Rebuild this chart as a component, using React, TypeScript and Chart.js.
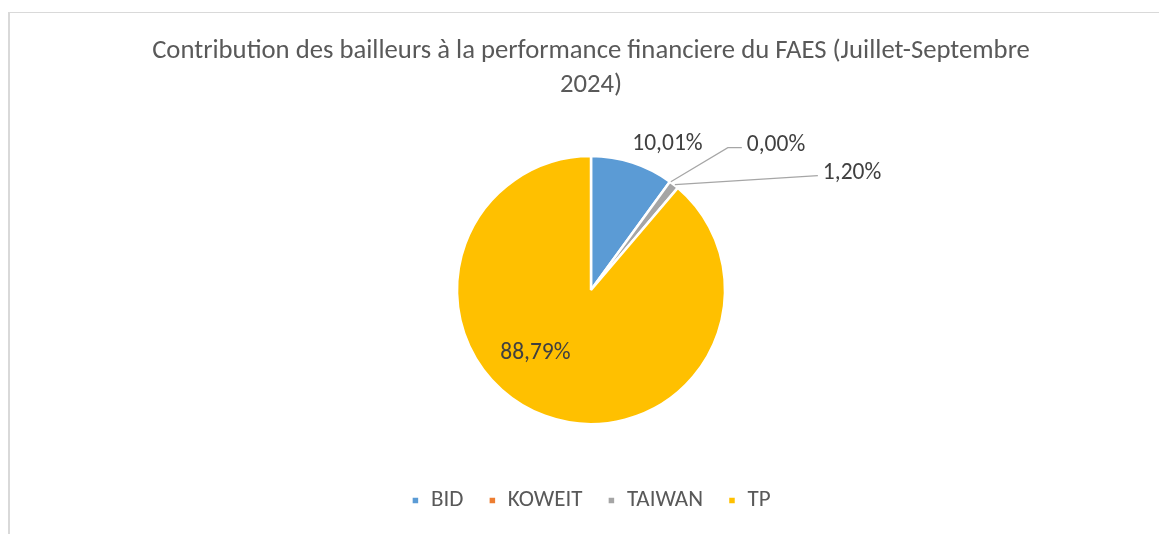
import React, { useEffect, useRef } from "react";
import { Chart, registerables } from "chart.js";

Chart.register(...registerables);

const categories = ["BID", "KOWEIT", "TAIWAN", "TP"];
const values = [10.01, 0.0, 1.2, 88.79];
const valueLabels = ["10,01%", "0,00%", "1,20%", "88,79%"];
const sliceColors = ["#5B9BD5", "#ED7D31", "#A5A5A5", "#FFC000"];
const titleLines = [
  "Contribution des bailleurs à la performance financiere du FAES (Juillet-Septembre",
  "2024)",
];

const FONT = "Calibri, Carlito, Lato, sans-serif";

// label placement styles (relative to each arc)
const labelPlacements: any[] = [
  { mode: "outside", dx: 35, dy: -18 },
  { mode: "leader", elbowDx: 58, elbowDy: -34, tail: 14 },
  { mode: "leader", elbowDx: 144, elbowDy: -9, tail: 0 },
  { mode: "inside", radial: 0.63, angleShift: (21 * Math.PI) / 180 },
];

const labelPlugin = {
  id: "sliceLabels",
  afterDatasetsDraw(chart: any) {
    const ctx = chart.ctx;
    const meta = chart.getDatasetMeta(0);
    ctx.save();
    ctx.font = `23.5px ${FONT}`;
    ctx.fillStyle = "#404040";
    ctx.textBaseline = "middle";
    meta.data.forEach((arc: any, i: number) => {
      const { x, y, startAngle, endAngle, outerRadius } = arc.getProps(
        ["x", "y", "startAngle", "endAngle", "outerRadius"],
        true
      );
      const mid = (startAngle + endAngle) / 2;
      const p = labelPlacements[i];
      const ax = x + Math.cos(mid) * outerRadius;
      const ay = y + Math.sin(mid) * outerRadius;
      const text = valueLabels[i];
      if (p.mode === "outside") {
        ctx.textAlign = "center";
        ctx.fillText(text, ax + p.dx, ay + p.dy);
      } else if (p.mode === "leader") {
        const ex = ax + p.elbowDx;
        const ey = ay + p.elbowDy;
        ctx.strokeStyle = "#A6A6A6";
        ctx.lineWidth = 1.2;
        ctx.beginPath();
        ctx.moveTo(ax + 1, ay);
        ctx.lineTo(ex, ey);
        ctx.lineTo(ex + p.tail, ey);
        ctx.stroke();
        ctx.textAlign = "left";
        ctx.fillText(text, ex + p.tail + 5, ey - 3);
      } else {
        const a = mid + p.angleShift;
        const r = outerRadius * p.radial;
        ctx.textAlign = "center";
        ctx.fillText(text, x + Math.cos(a) * r, y + Math.sin(a) * r);
      }
    });
    ctx.restore();
  },
};

export default function App() {
  const canvasRef = useRef<HTMLCanvasElement | null>(null);

  useEffect(() => {
    if (!canvasRef.current) return;
    const chart = new Chart(canvasRef.current, {
      type: "pie",
      data: {
        labels: categories,
        datasets: [
          {
            data: values,
            backgroundColor: sliceColors,
            borderColor: "#FFFFFF",
            borderWidth: 2.5,
            radius: 134,
          },
        ],
      },
      options: {
        responsive: false,
        animation: false,
        layout: { padding: { left: 23, right: 0, top: 0, bottom: 12 } },
        plugins: {
          title: {
            display: true,
            text: titleLines,
            color: "#595959",
            font: { family: FONT, size: 26.7, weight: "normal", lineHeight: 34 / 26.7 },
            padding: { top: 34, bottom: 14 },
          },
          legend: {
            display: true,
            position: "bottom",
            labels: {
              boxWidth: 8,
              boxHeight: 8,
              padding: 25,
              color: "#595959",
              font: { family: FONT, size: 23 },
            },
          },
          tooltip: { enabled: false },
        },
      },
      plugins: [labelPlugin],
    });
    return () => chart.destroy();
  }, []);

  return (
    <div
      style={{
        position: "fixed",
        left: 0,
        top: 0,
        width: 1159,
        height: 534,
        background: "#FFFFFF",
      }}
    >
      <div
        style={{
          position: "absolute",
          left: 8,
          top: 12,
          width: 1151,
          height: 522,
          borderTop: "1px solid #D9D9D9",
          borderLeft: "2px solid #D9D9D9",
          boxSizing: "border-box",
        }}
      />
      <canvas
        ref={canvasRef}
        width={1159}
        height={534}
        style={{ position: "absolute", left: 0, top: 0 }}
      />
    </div>
  );
}
